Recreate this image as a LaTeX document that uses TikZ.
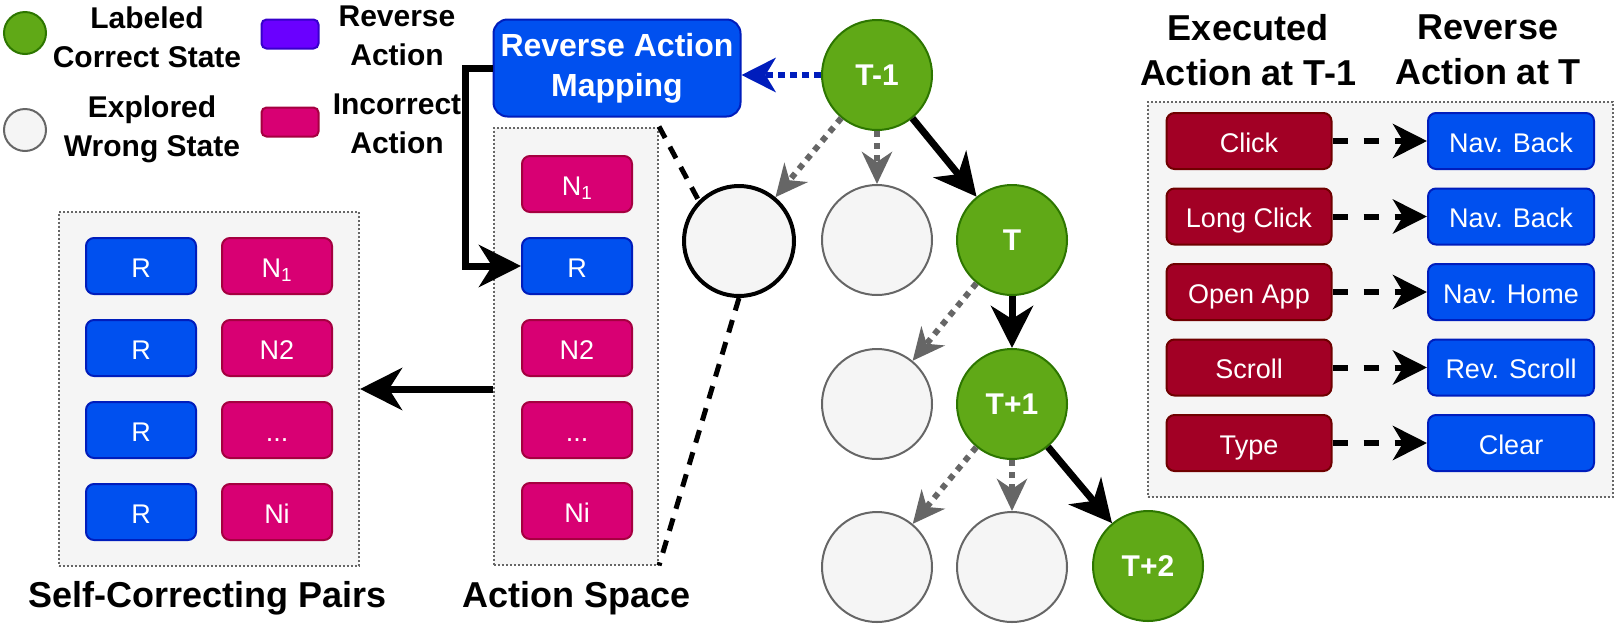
\documentclass[tikz,border=0pt]{standalone}
\usepackage{fontspec}
\setmainfont{Liberation Sans}
\usepackage{tikz}
\usetikzlibrary{arrows.meta}
\definecolor{stategreen}{HTML}{60A917}
\definecolor{stategreenline}{HTML}{2D7600}
\definecolor{panelgrey}{HTML}{F5F5F5}
\definecolor{wrongline}{HTML}{666666}
\definecolor{revblue}{HTML}{0050EF}
\definecolor{revblueline}{HTML}{001DBC}
\definecolor{negpink}{HTML}{D80073}
\definecolor{negpinkline}{HTML}{A50040}
\definecolor{legpurple}{HTML}{6A00FF}
\definecolor{legpurpleline}{HTML}{3700CC}
\definecolor{execred}{HTML}{A20025}
\definecolor{execredline}{HTML}{6F0000}
\newcommand{\moreneg}{...}

\tikzset{
    goodstate/.style={circle, fill=stategreen, draw=stategreenline, line width=2pt, minimum size=110pt, inner sep=0pt, text=white, font=\fontsize{30}{36}\selectfont\bfseries},
    wrongstate/.style={circle, fill=panelgrey, draw=wrongline, line width=2pt, minimum size=110pt, inner sep=0pt},
    actbox/.style={rounded corners=8pt, line width=2pt, minimum width=110pt, minimum height=56pt, inner sep=0pt, text=white, text height=22pt, text depth=0pt, font=\fontsize{27}{32}\selectfont},
    revbox/.style={actbox, fill=revblue, draw=revblueline},
    negbox/.style={actbox, fill=negpink, draw=negpinkline},
    execbox/.style={actbox, fill=execred, draw=execredline, minimum width=165pt},
    panel/.style={fill=panelgrey, draw=wrongline, line width=2pt, dash pattern=on 2pt off 2pt, inner sep=0pt},
    heading/.style={font=\fontsize{36}{45}\selectfont\bfseries, align=center},
    legendtext/.style={font=\fontsize{30}{39}\selectfont\bfseries, align=center},
    goodpath/.style={line width=7pt, -{Stealth[length=42pt,width=42pt,inset=13pt]}},
    wrongpath/.style={draw=wrongline, line width=6pt, dash pattern=on 6pt off 6pt, -{Stealth[length=32pt,width=30pt,inset=10pt]}},
    mappath/.style={draw=revblueline, line width=6pt, dash pattern=on 7pt off 5pt, -{Stealth[length=34pt,width=34pt,inset=10pt]}},
    pairpath/.style={line width=6pt, dash pattern=on 15pt off 16pt, -{Stealth[length=34pt,width=34pt,inset=10pt]}},
    calloutline/.style={line width=5pt, dash pattern=on 13pt off 10pt},
}

\begin{document}
\begin{tikzpicture}[x=1pt,y=-1pt]
    \useasboundingbox (0,0) rectangle (1617,625);

    % legend
    \node[goodstate, minimum size=42pt] (leggood) at (25,33) {};
    \node[wrongstate, minimum size=42pt] (legwrong) at (25,130) {};
    \node[legendtext] (leggoodtext) at (147,37) {Labeled\\Correct State};
    \node[legendtext] (legwrongtext) at (152,129) {Explored\\Wrong State};
    \node[actbox, fill=legpurple, draw=legpurpleline, minimum width=57pt, minimum height=29pt, rounded corners=5pt] (legrev) at (290,34) {};
    \node[negbox, minimum width=57pt, minimum height=29pt, rounded corners=5pt] (legneg) at (290,122) {};
    \node[legendtext] (legrevtext) at (397,36) {Reverse\\Action};
    \node[legendtext] (legnegtext) at (397,124) {Incorrect\\Action};

    % reverse action mapping and action space
    \node[revbox, minimum width=247pt, minimum height=97pt, rounded corners=14pt, align=center, text height=, text depth=, font=\fontsize{32}{40}\selectfont\bfseries] (revmap) at (617,68) {Reverse Action\\Mapping};
    \node[panel, minimum width=164pt, minimum height=437pt] (actspace) at (576,346) {};
    \node[negbox] (asn1) at (577,184) {N\textsubscript{1}};
    \node[revbox] (asr) at (577,266) {R};
    \node[negbox] (asn2) at (577,348) {N2};
    \node[negbox] (asdots) at (577,430) {\moreneg};
    \node[negbox] (asni) at (577,511) {Ni};
    \node[heading] (actspacetext) at (577,598) {Action Space};

    % self-correcting pairs
    \node[panel, minimum width=300pt, minimum height=354pt] (pairs) at (209,389) {};
    \foreach \neg [count=\i] in {N\textsubscript{1}, N2, \moreneg, Ni} {
        \node[revbox] (pr\i) at (141,184+82*\i) {R};
        \node[negbox] (pn\i) at (277,184+82*\i) {\neg};
    }
    \node[heading] (pairstext) at (208,598) {Self-Correcting Pairs};

    \draw[goodpath] (revmap.west) -- ++(-27,0) |- (asr.west);
    \draw[goodpath] (pairs.east -| actspace.west) -- (pairs.east);

    % exploration tree
    \node[goodstate] (tm1) at (877,75) {T-1};
    \node[goodstate] (t) at (1012,240) {T};
    \node[goodstate] (tp1) at (1012,404) {T+1};
    \node[goodstate] (tp2) at (1148,566) {T+2};
    \node[wrongstate, draw=black, line width=4pt] (zoomc) at (739,241) {};
    \node[wrongstate] (w1) at (877,240) {};
    \node[wrongstate] (w2) at (877,404) {};
    \node[wrongstate] (w3) at (877,567) {};
    \node[wrongstate] (w4) at (1012,567) {};

    \draw[goodpath] (tm1) -- (t);
    \draw[goodpath] (t) -- (tp1);
    \draw[goodpath] (tp1) -- (tp2);
    \draw[wrongpath] (tm1) -- (zoomc);
    \draw[wrongpath] (tm1) -- (w1);
    \draw[wrongpath] (t) -- (w2);
    \draw[wrongpath] (tp1) -- (w3);
    \draw[wrongpath] (tp1) -- (w4);
    \draw[mappath] (tm1.west) -- (tm1.west -| revmap.east);

    \draw[calloutline] (actspace.north east) -- (zoomc.north west);
    \draw[calloutline] (zoomc.south) -- (actspace.south east);

    % reverse action table
    \node[heading] (exectext) at (1248,50) {Executed\\Action at T-1};
    \node[heading] (revtext) at (1488,50) {Reverse\\Action at T};
    \node[panel, minimum width=465pt, minimum height=395pt] (table) at (1380,299) {};
    \foreach \ex/\rv [count=\i] in {Click/Nav. Back, Long Click/Nav. Back, Open App/Nav. Home, Scroll/Rev. Scroll, Type/Clear} {
        \node[execbox] (ex\i) at (1249,65.5+75.5*\i) {\ex};
        \node[revbox, minimum width=166pt] (rv\i) at (1511,65.5+75.5*\i) {\rv};
        \draw[pairpath] (ex\i) -- (rv\i);
    }
\end{tikzpicture}
\end{document}
